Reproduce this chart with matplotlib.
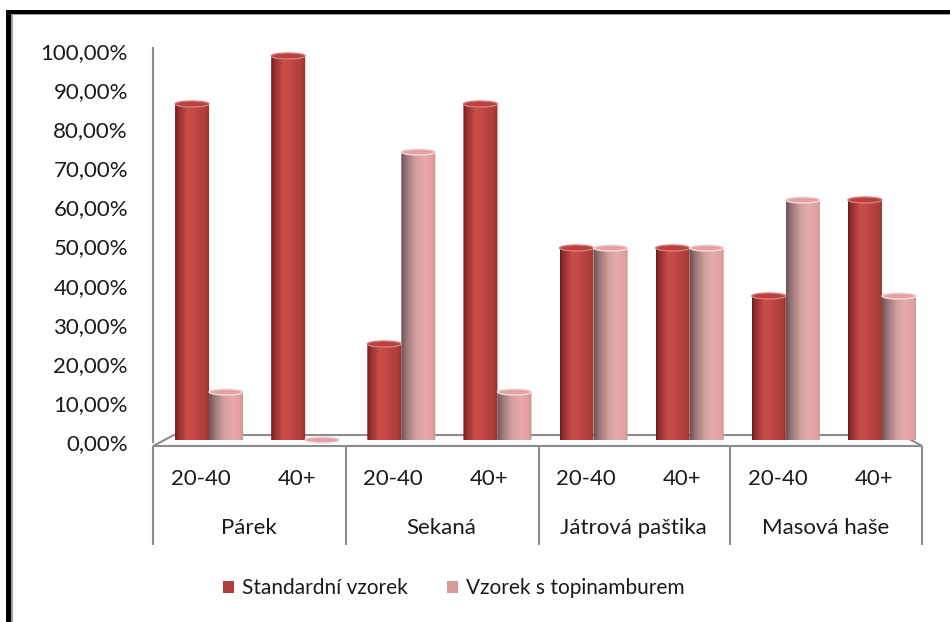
import matplotlib
matplotlib.use("Agg")
import matplotlib.pyplot as plt
import numpy as np
from matplotlib.colors import LinearSegmentedColormap
from matplotlib.patches import Ellipse, PathPatch, Rectangle, Patch
from matplotlib.path import Path
from matplotlib.lines import Line2D
import matplotlib.transforms as mtransforms

# ---------------- data ----------------
groups = ["Párek", "Sekaná", "Játrová paštika", "Masová haše"]
ages = ["20-40", "40+"]
series = ["Standardní vzorek", "Vzorek s topinamburem"]
standard = [87.5, 100.0, 25.0, 87.5, 50.0, 50.0, 37.5, 62.5]
topinambur = [12.5, 0.0, 75.0, 12.5, 50.0, 50.0, 62.5, 37.5]
yticks = [0, 10, 20, 30, 40, 50, 60, 70, 80, 90, 100]
ytick_labels = ["0,00%", "10,00%", "20,00%", "30,00%", "40,00%", "50,00%",
                "60,00%", "70,00%", "80,00%", "90,00%", "100,00%"]

plt.rcParams['font.family'] = ['Lato', 'DejaVu Sans']
TXT = '#1a1a1a'
GRID = '#8c8c8c'
FS = 16
FSL = 15

W, H = 950, 622
fig = plt.figure(figsize=(9.5, 6.22), dpi=100)
fig.patch.set_facecolor('white')

def fx(px):
    return px / W

def fy(py):
    return 1 - py / H

# pixel-space overlay for frame/floor decorations
bg = fig.add_axes([0, 0, 1, 1], zorder=0)
bg.set_xlim(0, W)
bg.set_ylim(H, 0)
bg.axis('off')

# outer frame (left and top visible)
bg.add_patch(Rectangle((6, 10), 5, H, color='black', lw=0))
bg.add_patch(Rectangle((6, 10), W, 3.5, color='black', lw=0))
bg.add_patch(Rectangle((11, 13.5), 2, H, color='#a0a0a0', lw=0))
bg.add_patch(Rectangle((11, 13.5), W, 1.8, color='#a0a0a0', lw=0))

# ---------------- tick axes ----------------
n = len(standard)
axt = fig.add_axes([fx(153), fy(442), (922 - 153) / W, 391 / H], zorder=1)
axt.set_facecolor('none')
axt.set_ylim(0, 100)
axt.set_xlim(-0.5, n - 0.5)
for s in ['top', 'right', 'bottom']:
    axt.spines[s].set_visible(False)
axt.spines['left'].set_color(GRID)
axt.spines['left'].set_linewidth(1.5)
axt.spines['left'].set_bounds(0, 100.8)
axt.set_xticks([])
axt.set_yticks(yticks)
axt.set_yticklabels(ytick_labels, fontsize=FS, color=TXT)
axt.tick_params(axis='y', length=0, pad=18)

# floor (3D base)
floor_kw = dict(color=GRID, lw=1.5, solid_capstyle='butt')
bg.add_line(Line2D([153, 922], [446, 446], **floor_kw))
bg.add_line(Line2D([153, 174], [446, 435], **floor_kw))
bg.add_line(Line2D([174, 902], [435, 435], **floor_kw))
bg.add_line(Line2D([902, 922], [435, 446], **floor_kw))
for xs in [153, 346, 539, 730, 922]:
    bg.add_line(Line2D([xs, xs], [446, 545], **floor_kw))

# category labels
blend = mtransforms.blended_transform_factory(axt.transData, bg.transData)
for i in range(n):
    axt.text(i, 479, ages[i % 2], transform=blend, ha='center', va='center',
             fontsize=FS, color=TXT)
for g, name in enumerate(groups):
    axt.text(2 * g + 0.5, 528, name, transform=blend, ha='center', va='center',
             fontsize=FS, color=TXT)

# ---------------- bar axes (3D bar plane) ----------------
axb = fig.add_axes([fx(161), fy(440), 769 / W, 384 / H], zorder=2)
axb.set_facecolor('none')
axb.axis('off')
axb.set_xlim(-0.5, n - 0.5)
axb.set_ylim(0, 100)

bw = 0.354
ey = 6 * 100 / 384.0  # ellipse height in data units (6 px)

cm_red = LinearSegmentedColormap.from_list('r', [
    (0.0, '#6e201f'), (0.12, '#9a302e'), (0.35, '#c74f4b'),
    (0.6, '#bf4642'), (0.88, '#ad3d3a'), (1.0, '#903230')])
cm_pink = LinearSegmentedColormap.from_list('p', [
    (0.0, '#6a5253'), (0.15, '#9a7577'), (0.42, '#d29fa1'),
    (0.68, '#e9a9ab'), (0.9, '#dfa1a3'), (1.0, '#c58d8f')])
grad = np.linspace(0, 1, 256).reshape(1, -1)


def cylinder(ax, xc, v, cmap, top_face, top_edge):
    x0, x1 = xc - bw / 2, xc + bw / 2
    b = ey / 2
    t = np.linspace(0, np.pi, 40)
    arc = np.column_stack([xc + (bw / 2) * np.cos(t), -b * np.sin(t)])
    verts = np.vstack([[[x0, v], [x1, v], [x1, 0]], arc, [[x0, v]]])
    codes = [Path.MOVETO] + [Path.LINETO] * (len(verts) - 2) + [Path.CLOSEPOLY]
    body = PathPatch(Path(verts, codes), facecolor='none', edgecolor='none')
    ax.add_patch(body)
    if v > 0:
        im = ax.imshow(grad, cmap=cmap, extent=[x0, x1, -b, v], aspect='auto',
                       interpolation='bilinear', zorder=3)
        im.set_clip_path(body)
        im.set_clip_on(True)
    top = Ellipse((xc, v), bw, ey, facecolor=top_face, edgecolor=top_edge,
                  lw=1.0, zorder=4, clip_on=False)
    ax.add_patch(top)


for i in range(n):
    cylinder(axb, i - bw / 2, standard[i], cm_red, '#b8403d', '#d77c79')
    cylinder(axb, i + bw / 2, topinambur[i], cm_pink, '#e3a3a5', '#f5dcdc')

axb.set_xlim(-0.5, n - 0.5)
axb.set_ylim(0, 100)

# legend
handles = [Patch(facecolor='#b0403e', edgecolor='none', label=series[0]),
           Patch(facecolor='#d9989a', edgecolor='none', label=series[1])]
leg = fig.legend(handles=handles, loc='center', bbox_to_anchor=(fx(454), fy(588)),
                 ncol=2, frameon=False, fontsize=FSL, handlelength=0.5,
                 handleheight=0.5, handletextpad=0.4, columnspacing=1.9)
for t in leg.get_texts():
    t.set_color(TXT)

fig.savefig('out.png', dpi=100)
